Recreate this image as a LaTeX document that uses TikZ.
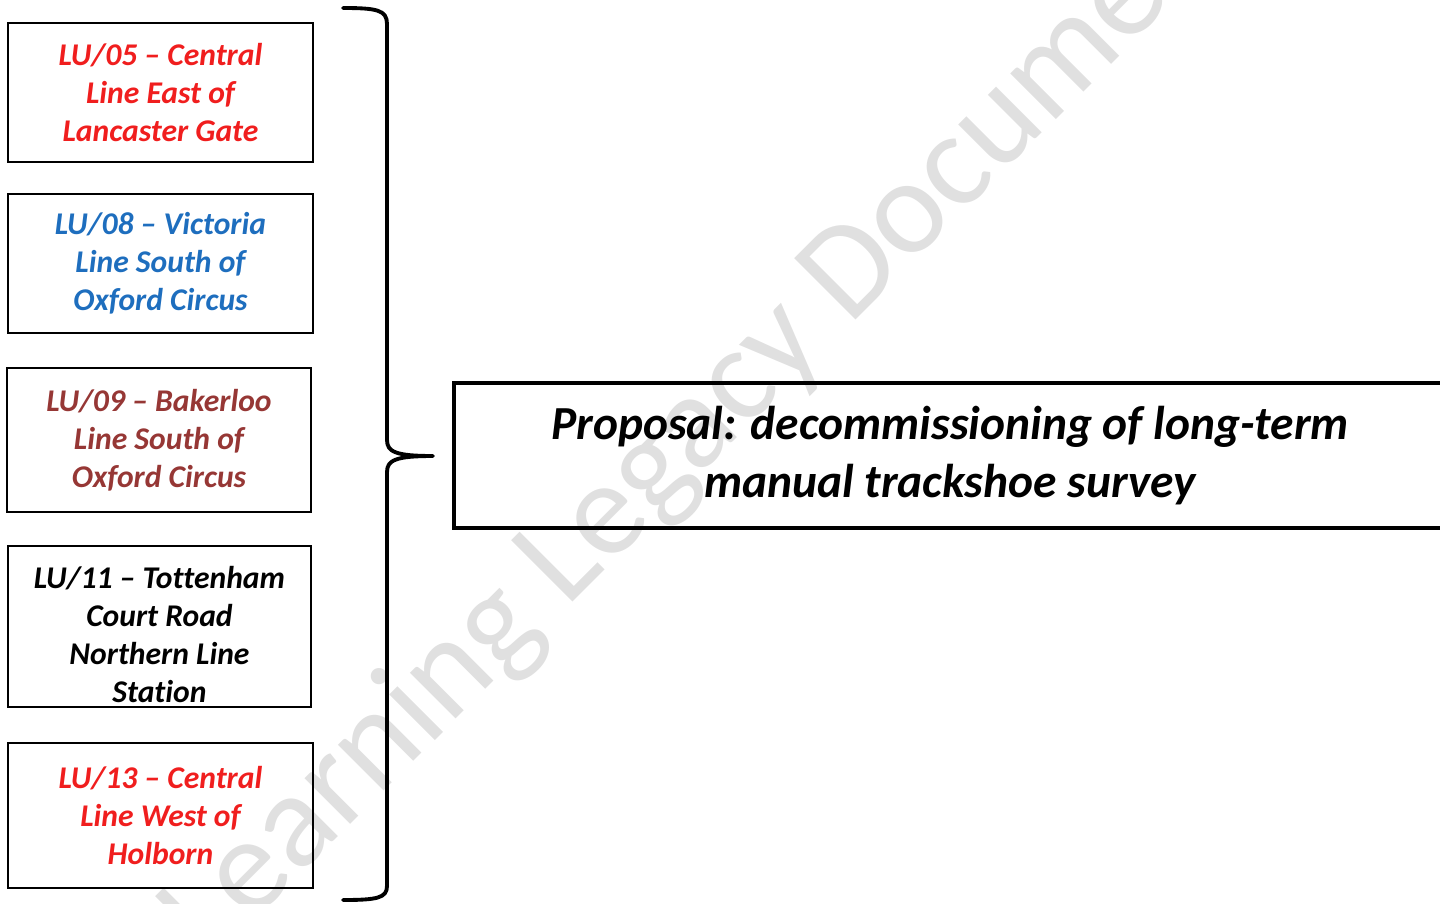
\documentclass[tikz,border=0pt]{standalone}
\usepackage{fontspec}
\setmainfont[Ligatures=NoCommon]{Carlito}

\definecolor{lured}{RGB}{240,30,30}
\definecolor{lublue}{RGB}{30,110,190}
\definecolor{lubrown}{RGB}{150,55,53}
\definecolor{wmark}{RGB}{224,224,224}

\tikzset{
    site/.style={shape=rectangle, draw, line width=1.1pt, align=center,
        inner sep=0pt, font=\fontsize{18}{21.6}\selectfont\bfseries\itshape},
    proposal/.style={shape=rectangle, draw, line width=2.2pt, align=center,
        inner sep=0pt, font=\fontsize{27}{33}\selectfont\bfseries\itshape},
    brace/.style={line width=2.2pt, line cap=round, line join=round},
}

\begin{document}
\begin{tikzpicture}[x=0.02cm, y=-0.02cm]
    \useasboundingbox (0, 0) rectangle (1440, 903);

    \node [rotate=45, text=wmark, font=\fontsize{77}{92}\selectfont]
        (wm) at (708, 418) {Learning Legacy Document};

    \node [site, text=lured, minimum width=6.1cm, minimum height=2.78cm]
        (lu05) at (160.5, 92.5) {LU/05 -- Central\\Line East of\\Lancaster Gate};
    \node [site, text=lublue, minimum width=6.1cm, minimum height=2.78cm]
        (lu08) at (160.5, 263.5) {LU/08 -- Victoria\\Line South of\\Oxford Circus};
    \node [site, text=lubrown, minimum width=6.08cm, minimum height=2.88cm]
        (lu09) at (159, 440) {LU/09 -- Bakerloo\\Line South of\\Oxford Circus};
    \node [site, minimum width=6.06cm, minimum height=3.22cm]
        (lu11) at (159.5, 626.5) {\rule{0pt}{0.76cm}LU/11 -- Tottenham\\Court Road\\Northern Line\\Station};
    \node [site, text=lured, minimum width=6.1cm, minimum height=2.9cm]
        (lu13) at (160.5, 815.5) {LU/13 -- Central\\Line West of\\Holborn};

    \node [proposal, minimum width=19.84cm, minimum height=2.9cm]
        (prop) at (950, 455.5)
        {Proposal: decommissioning of long-term\\manual trackshoe survey};

    % curly brace gathering the five sites
    \coordinate (tip) at (433, 456);
    \draw [brace] (343, 8) .. controls (377, 8) and (387, 10) .. (387, 24)
        -- (387, 440) .. controls (387, 452) and (396, 456) .. (tip)
        .. controls (396, 456) and (387, 460) .. (387, 472)
        -- (387, 886) .. controls (387, 898) and (377, 900) .. (343, 900);
\end{tikzpicture}
\end{document}
